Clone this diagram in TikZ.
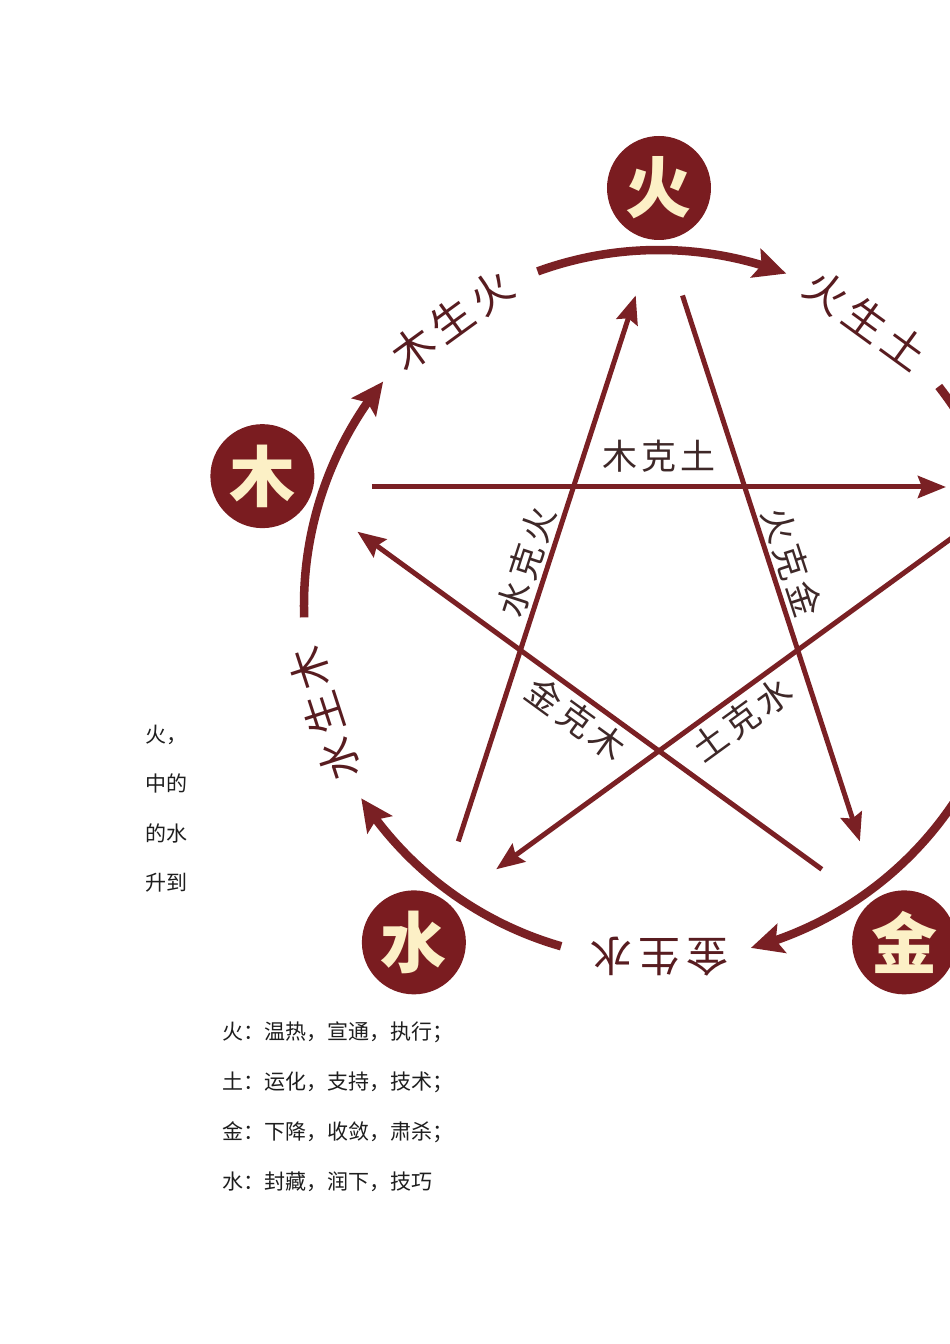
\documentclass[tikz,border=0pt]{standalone}
\usepackage{fontspec}
\newfontfamily\cjk{Noto Sans CJK SC}
\usetikzlibrary{arrows.meta,bending}
\definecolor{wxnode}{RGB}{122,28,32}
\definecolor{wxring}{RGB}{122,32,36}
\definecolor{wxcream}{RGB}{252,240,198}
\definecolor{wxtext}{RGB}{88,28,32}
\definecolor{wxlabel}{RGB}{62,40,40}
\definecolor{wxbody}{RGB}{30,30,30}
\begin{document}
\begin{tikzpicture}[x=1pt,y=1pt,
  elem/.style={circle,fill=wxnode,minimum size=104pt,inner sep=0pt,text=wxcream,font=\cjk\bfseries\fontsize{66}{66}\selectfont},
  ring/.style={line width=8.5pt,draw=wxring,-{Stealth[length=32pt,width=30pt,inset=6pt]}},
  ringtext/.style={text=wxtext,font=\cjk\fontsize{42}{42}\selectfont,inner sep=0pt},
  star/.style={line width=5pt,draw=wxring,-{Stealth[length=28pt,width=22pt,inset=4pt]}},
  startext/.style={text=wxlabel,font=\cjk\fontsize{35}{35}\selectfont,inner sep=0pt},
  body/.style={text=wxbody,font=\cjk\fontsize{21}{21}\selectfont,anchor=west,inner sep=0pt}]
\useasboundingbox (-659,-739) rectangle (291,605);
\fill[white] (-659,-739) rectangle (291,605);
\clip (-659,-739) rectangle (291,605);
\coordinate (O) at (0,0);

% ring arcs (sheng cycle)
\foreach \t in {90,18,-54,-126,162}{
  \draw[ring] (\t+20:355) arc[start angle=\t+20,end angle=\t-21,radius=355pt];
}
\node[ringtext,rotate=-36] (r1) at (54:352) {火\kern6pt 生\kern6pt 土};
\node[ringtext,rotate=-108] (r2) at (-18:352) {土\kern6pt 生\kern6pt 金};
\node[ringtext,rotate=-180] (r3) at (-90:352) {金\kern6pt 生\kern6pt 水};
\node[ringtext,rotate=108] (r4) at (-162:352) {水\kern6pt 生\kern6pt 木};
\node[ringtext,rotate=36] (r5) at (126:352) {木\kern6pt 生\kern6pt 火};

% element nodes
\node[elem] (huo) at (90:417) {火};
\node[elem] (mu) at (162:417) {木};
\node[elem] (shui) at (-126:417) {水};
\node[elem] (jin) at (-54:417) {金};

% star (ke cycle) endpoints
\coordinate (s1) at (-287,118);   \coordinate (e1) at (287,118);
\coordinate (s2) at (-200.7,-236.4); \coordinate (e2) at (-23.3,309.5);
\coordinate (s3) at (23.5,309.5); \coordinate (e3) at (200.9,-236.4);
\coordinate (s4) at (162.8,-264.3); \coordinate (e4) at (-301.6,73.3);
\coordinate (s5) at (301.6,73.3); \coordinate (e5) at (-162.8,-264.3);
\draw[star] (s1) -- (e1);
\draw[star] (s2) -- (e2);
\draw[star] (s3) -- (e3);
\draw[star] (s4) -- (e4);
\draw[star] (s5) -- (e5);

\node[startext] (k1) at (90:149) {木\kern4pt 克\kern4pt 土};
\node[startext,rotate=72] (k2) at (162:140) {水\kern4pt 克\kern4pt 火};
\node[startext,rotate=-72] (k3) at (18:140) {火\kern4pt 克\kern4pt 金};
\node[startext,rotate=-36] (k4) at (-126:141) {金\kern4pt 克\kern4pt 木};
\node[startext,rotate=36] (k5) at (-54:141) {土\kern4pt 克\kern4pt 水};

% side text
\node[body] (a1) at (-514,-130) {火，};
\node[body] (a2) at (-514,-178) {中的};
\node[body] (a3) at (-514,-228) {的水};
\node[body] (a4) at (-514,-278) {升到};

% bottom text
\node[body] (b1) at (-437,-427) {火：温热，宣通，执行；};
\node[body] (b2) at (-437,-477) {土：运化，支持，技术；};
\node[body] (b3) at (-437,-527) {金：下降，收敛，肃杀；};
\node[body] (b4) at (-437,-577) {水：封藏，润下，技巧};
\end{tikzpicture}
\end{document}
